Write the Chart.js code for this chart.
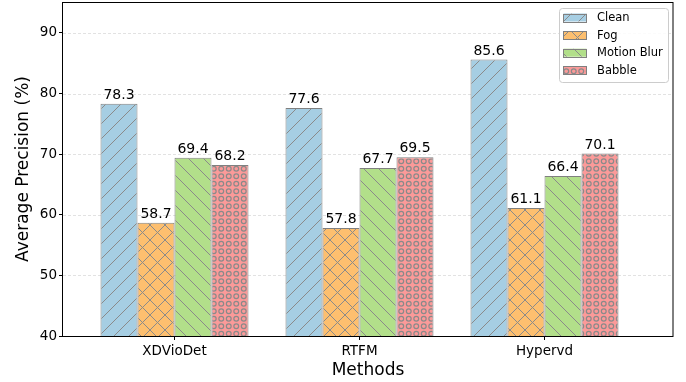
<!DOCTYPE html>
<html><head><meta charset="utf-8">
<script src="https://cdn.jsdelivr.net/npm/chart.js@4"></script>
<style>html,body{margin:0;padding:0;background:#fff;} canvas{display:block;}</style>
</head><body>
<canvas id="c" width="686" height="382"></canvas>
<script>
// ---- data ----
const methods = ['XDVioDet', 'RTFM', 'Hypervd'];
const seriesNames = ['Clean', 'Fog', 'Motion Blur', 'Babble'];
const clean = [78.3, 77.6, 85.6];
const fog = [58.7, 57.8, 61.1];
const motionBlur = [69.4, 67.7, 66.4];
const babble = [68.2, 69.5, 70.1];
const yTicks = [40, 50, 60, 70, 80, 90];
const xTickPositions = [0, 1, 2];

// ---- styling ----
const FONT = "'DejaVu Sans', sans-serif";
const colors = ['#a6cee3', '#fdbf6f', '#b2df8a', '#fb9a99'];
const hatches = ['/', 'x', '\\', 'o'];
const HATCH_COLOR = '#8a8a8a';

function makePattern(color, type) {
  const s = 15;
  const c = document.createElement('canvas');
  c.width = s; c.height = s;
  const g = c.getContext('2d');
  g.fillStyle = color; g.fillRect(0, 0, s, s);
  g.strokeStyle = HATCH_COLOR; g.lineWidth = 1;
  const line = (x1, y1, x2, y2) => { g.beginPath(); g.moveTo(x1, y1); g.lineTo(x2, y2); g.stroke(); };
  if (type === '/' || type === 'x') {
    line(-2, s + 2, s + 2, -2); line(-2, 2, 2, -2); line(s - 2, s + 2, s + 2, s - 2);
  }
  if (type === '\\' || type === 'x') {
    line(-2, -2, s + 2, s + 2); line(s - 2, -2, s + 2, 2); line(-2, s - 2, 2, s + 2);
  }
  if (type === 'o') {
    g.lineWidth = 1.2;
    const cs = [3.75, 11.25];
    for (const cx of cs) for (const cy of cs) {
      g.beginPath(); g.arc(cx, cy, 2.4, 0, Math.PI * 2); g.stroke();
    }
  }
  return g.createPattern(c, 'repeat');
}

const seriesValues = [clean, fog, motionBlur, babble];
const datasets = seriesNames.map((name, i) => ({
  label: name,
  data: seriesValues[i].map((v, j) => ({ x: xTickPositions[j], y: v })),
  backgroundColor: makePattern(colors[i], hatches[i]),
  borderColor: '#808080',
  borderWidth: 1,
  borderSkipped: false,
  categoryPercentage: 0.8,
  barPercentage: 1.0
}));

const framePlugin = {
  id: 'frame',
  beforeDatasetsDraw(chart) {
    const { ctx, chartArea: a, scales: { y } } = chart;
    ctx.save();
    ctx.strokeStyle = '#dadada';
    ctx.lineWidth = 0.8;
    ctx.setLineDash([3, 2]);
    yTicks.forEach(v => {
      if (v === yTicks[0]) return;
      const py = Math.round(y.getPixelForValue(v)) + 0.5;
      ctx.beginPath(); ctx.moveTo(a.left, py); ctx.lineTo(a.right, py); ctx.stroke();
    });
    ctx.restore();
  },
  afterDatasetsDraw(chart) {
    const { ctx, chartArea: a } = chart;
    ctx.save();
    ctx.fillStyle = '#000';
    ctx.font = `14px ${FONT}`;
    ctx.textAlign = 'center';
    ctx.textBaseline = 'alphabetic';
    chart.data.datasets.forEach((ds, i) => {
      const meta = chart.getDatasetMeta(i);
      meta.data.forEach((el, j) => {
        ctx.fillText(ds.data[j].y.toFixed(1), el.x, el.y - 5);
      });
    });
    ctx.strokeStyle = '#000';
    ctx.lineWidth = 1;
    ctx.strokeRect(Math.round(a.left) - 0.5, Math.round(a.top) + 0.5, Math.round(a.right - a.left) + 0.5, Math.round(a.bottom - a.top));
    ctx.restore();
  },
  afterDraw(chart) {
    const { ctx } = chart;
    ctx.save();
    const bx = 559.5, by = 8.5, bw = 109, bh = 74, r = 3;
    ctx.fillStyle = 'rgba(255,255,255,0.85)';
    ctx.strokeStyle = '#cccccc';
    ctx.lineWidth = 1;
    ctx.beginPath();
    ctx.roundRect(bx, by, bw, bh, r);
    ctx.fill(); ctx.stroke();
    ctx.font = `11.5px ${FONT}`;
    ctx.textBaseline = 'middle';
    ctx.textAlign = 'left';
    chart.data.datasets.forEach((ds, i) => {
      const cy = 17.5 + i * 17.6;
      ctx.fillStyle = ds.backgroundColor;
      ctx.fillRect(563.5, cy - 4, 23, 8);
      ctx.strokeStyle = '#808080';
      ctx.strokeRect(563.5, Math.round(cy - 4) + 0.5, 23, 8);
      ctx.fillStyle = '#000';
      ctx.fillText(ds.label, 597, cy + 0.5);
    });
    ctx.restore();
  }
};

new Chart(document.getElementById('c'), {
  type: 'bar',
  data: { datasets },
  options: {
    responsive: false,
    devicePixelRatio: 1,
    animation: false,
    layout: { padding: { top: 2, right: 13, left: 0, bottom: 0 } },
    plugins: { legend: { display: false }, tooltip: { enabled: false } },
    scales: {
      x: {
        type: 'linear',
        offset: false,
        min: -0.6027,
        max: 2.6946,
        afterBuildTicks: s => { s.ticks = xTickPositions.map(v => ({ value: v })); },
        afterFit: s => { s.height = 46; s.paddingLeft = 0; s.paddingRight = 0; s.paddingTop = 0; s.paddingBottom = 0; },
        ticks: {
          color: '#000',
          font: { family: FONT, size: 13.5 },
          padding: 3,
          maxRotation: 0,
          autoSkip: false,
          callback: v => methods[v]
        },
        grid: { offset: false, drawOnChartArea: false, drawTicks: true, tickLength: 4, tickColor: '#000', tickWidth: 1 },
        border: { display: false },
        title: {
          display: true, text: 'Methods', color: '#000',
          font: { family: FONT, size: 17 }, padding: { top: 0, bottom: 1 }
        }
      },
      y: {
        min: 40,
        max: 95.1,
        afterBuildTicks: s => { s.ticks = yTicks.map(v => ({ value: v })); },
        afterFit: s => { s.width = 63; s.paddingTop = 0; s.paddingBottom = 0; s.paddingLeft = 0; s.paddingRight = 0; },
        ticks: {
          color: '#000',
          font: { family: FONT, size: 13.5 },
          padding: 2
        },
        grid: { drawOnChartArea: false, drawTicks: true, tickLength: 4, tickColor: '#000', tickWidth: 1 },
        border: { display: false },
        title: {
          display: true, text: 'Average Precision (%)', color: '#000',
          font: { family: FONT, size: 17 }, padding: { top: 13, bottom: 0 }
        }
      }
    }
  },
  plugins: [framePlugin]
});
</script>
</body></html>
